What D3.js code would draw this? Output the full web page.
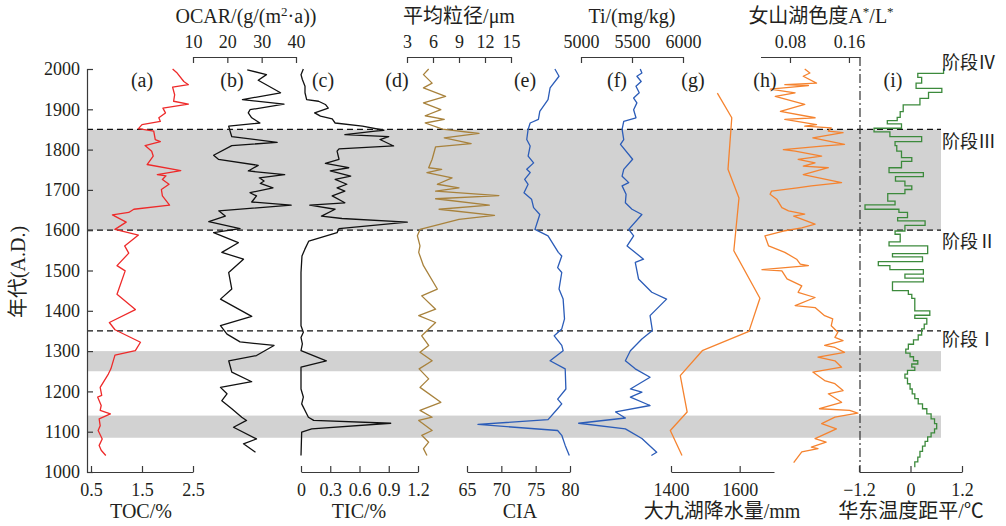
<!DOCTYPE html>
<html>
<head>
<meta charset="utf-8">
<title>multi-proxy record 1000-2000 A.D.</title>
<script src="https://cdn.jsdelivr.net/npm/d3@7"></script>
<style>
    body { margin: 0; background: #fff; }
    svg text { font-family: "Liberation Serif", "Noto Sans CJK SC", serif; fill: #231f20; }
</style>
</head>
<body>
<svg width="1006" height="526"></svg>
<script>
// [year, value] pairs
const toc = [[2000,2.1],[1990,2.19],[1969,2.32],[1961,2.41],[1955,2.1],[1936,2.14],[1920,2.12],[1913,2.41],[1903,1.91],[1891,1.96],[1879,1.83],[1870,1.86],[1862,1.5],[1852,1.43],[1846,1.73],[1825,1.76],[1820,1.86],[1810,1.56],[1796,1.69],[1784,1.72],[1763,1.6],[1748,2.26],[1738,1.8],[1735,1.97],[1726,1.9],[1714,2.03],[1701,1.88],[1685,1.9],[1662,2.04],[1652,1.34],[1644,1.24],[1638,0.92],[1620,1.19],[1602,0.97],[1588,1.43],[1561,1.16],[1543,1.24],[1512,1.01],[1499,1.17],[1441,1.01],[1403,1.37],[1371,0.86],[1353,0.97],[1322,1.47],[1301,1.37],[1290,0.97],[1256,0.89],[1243,0.84],[1210,0.68],[1190,0.71],[1186,0.63],[1165,0.7],[1153,0.68],[1144,0.88],[1132,0.66],[1115,0.68],[1103,0.64],[1082,0.72],[1066,0.66],[1054,0.7],[1041,0.79]];
const ocar = [[1998,25.8],[1986,31.4],[1972,29],[1941,35.5],[1924,24.4],[1913,36.5],[1899,26.6],[1891,26.1],[1879,27.1],[1866,29.5],[1858,20.4],[1846,20.8],[1832,21.3],[1818,34.5],[1810,21.3],[1786,16],[1776,17.4],[1761,29],[1747,26.1],[1738,36.7],[1730,29.3],[1722,30.7],[1716,29.6],[1705,33.3],[1693,26.6],[1685,28.5],[1670,27.1],[1662,38.6],[1648,17.5],[1635,19.4],[1621,14.6],[1604,23.7],[1594,16],[1569,23.2],[1545,18.4],[1528,24.7],[1495,20.4],[1454,21.3],[1429,18],[1386,27.1],[1363,18],[1342,19.9],[1323,23.7],[1314,33.6],[1289,28.5],[1276,20.4],[1248,21.3],[1224,27.1],[1210,18],[1194,19.9],[1177,18.4],[1157,21.3],[1136,24.2],[1128,25.6],[1111,21.8],[1082,28.5],[1070,24.7],[1049,28.2]];
const tic = [[2000,0.024],[1986,0],[1974,0.014],[1957,0.041],[1941,0.041],[1924,0.058],[1920,0.18],[1912,0.25],[1903,0.28],[1891,0.14],[1883,0.2],[1876,0.32],[1866,0.35],[1858,0.63],[1848,0.85],[1846,0.76],[1837,0.45],[1832,0.9],[1825,0.81],[1809,0.95],[1802,0.39],[1796,0.37],[1776,0.39],[1766,0.25],[1755,0.49],[1747,0.3],[1734,0.51],[1726,0.35],[1714,0.47],[1705,0.37],[1697,0.45],[1685,0.32],[1668,0.45],[1662,0.09],[1652,0.35],[1635,0.21],[1629,0.42],[1620,1.09],[1604,0.39],[1594,0.37],[1573,0.08],[1553,0.04],[1536,0.01],[1495,0],[1363,0],[1347,0.024],[1334,0],[1318,0.014],[1301,0],[1276,0.26],[1260,0],[1206,0],[1186,0.024],[1169,0.007],[1136,0.076],[1128,0.13],[1121,0.92],[1107,0.11],[1099,0.007],[1041,0]];
const grain = [[2000,5.5],[1986,4.9],[1965,5.9],[1953,4.9],[1932,7.45],[1916,4.9],[1899,6.9],[1884,5.1],[1875,7.3],[1866,5.1],[1851,7.1],[1840,11.3],[1829,7.3],[1815,10.4],[1807,6.3],[1776,5.9],[1755,5.5],[1751,7.0],[1743,5.3],[1730,8.2],[1714,6.5],[1705,9.0],[1697,6.3],[1686,13.6],[1678,6.3],[1662,12.5],[1652,6.7],[1637,13.1],[1627,9.0],[1602,4.5],[1586,4.2],[1561,4.5],[1545,4.35],[1512,4.9],[1454,6.5],[1437,4.7],[1404,6.3],[1388,4.35],[1371,6.3],[1338,4.7],[1314,5.5],[1297,4.5],[1276,5.9],[1256,4.4],[1231,5.5],[1210,4.5],[1173,6.9],[1153,4.5],[1136,5.9],[1128,4.35],[1103,5.9],[1091,4.7],[1074,5.5],[1058,4.9],[1041,5.3]];
const cia = [[2000,77.8],[1982,78.4],[1953,77.1],[1924,76.8],[1895,75.6],[1875,75.4],[1866,74.2],[1850,73.9],[1825,73.7],[1809,74.2],[1784,73.9],[1767,74.7],[1751,73.7],[1743,74.2],[1726,73.4],[1714,73.9],[1693,73.3],[1677,74.4],[1656,74.7],[1639,75.6],[1602,74.9],[1586,76.8],[1545,78.3],[1536,78.8],[1507,78.2],[1495,78.8],[1454,78.4],[1429,79.0],[1380,79.2],[1355,78.8],[1338,77.7],[1314,78.8],[1301,79.0],[1276,77.1],[1256,79.3],[1206,79.4],[1181,78.2],[1169,78.8],[1157,78.2],[1130,76.8],[1118,66.6],[1103,78.2],[1091,78.8],[1066,79.3],[1041,79.9]];
const ti = [[2000,5581],[1990,5597],[1982,5548],[1969,5590],[1957,5539],[1941,5571],[1928,5516],[1916,5548],[1899,5516],[1879,5539],[1870,5419],[1850,5403],[1825,5419],[1813,5387],[1776,5506],[1751,5419],[1734,5403],[1718,5468],[1710,5403],[1689,5442],[1668,5435],[1652,5500],[1639,5597],[1602,5468],[1586,5516],[1561,5452],[1528,5613],[1520,5532],[1479,5564],[1446,5694],[1429,5839],[1388,5677],[1351,5700],[1330,5597],[1301,5484],[1276,5435],[1256,5532],[1235,5677],[1206,5484],[1198,5597],[1186,5484],[1165,5677],[1149,5339],[1134,5435],[1121,4977],[1107,5435],[1083,5597],[1049,5742],[1041,5690]];
const precip = [[1940,1535],[1879,1577],[1751,1566],[1680,1598],[1549,1583],[1431,1659],[1349,1627],[1301,1491],[1239,1427],[1149,1447],[1103,1398],[1041,1432]];
const colorIdx = [[2000,0.100],[1990,0.107],[1982,0.098],[1965,0.116],[1961,0.073],[1959,0.105],[1950,0.053],[1941,0.087],[1932,0.060],[1912,0.100],[1895,0.067],[1879,0.114],[1875,0.073],[1862,0.116],[1858,0.100],[1854,0.136],[1846,0.132],[1842,0.152],[1829,0.111],[1813,0.154],[1809,0.127],[1800,0.071],[1796,0.087],[1784,0.123],[1776,0.091],[1767,0.114],[1759,0.098],[1755,0.132],[1738,0.098],[1718,0.150],[1710,0.109],[1705,0.090],[1697,0.055],[1689,0.053],[1677,0.062],[1656,0.069],[1648,0.078],[1640,0.100],[1635,0.085],[1615,0.114],[1606,0.096],[1598,0.071],[1586,0.046],[1561,0.051],[1545,0.073],[1528,0.089],[1516,0.094],[1512,0.105],[1502,0.042],[1499,0.069],[1479,0.076],[1462,0.096],[1446,0.091],[1433,0.114],[1413,0.087],[1408,0.114],[1388,0.127],[1380,0.138],[1363,0.136],[1347,0.145],[1334,0.141],[1326,0.152],[1314,0.127],[1309,0.141],[1297,0.154],[1285,0.118],[1276,0.141],[1260,0.150],[1248,0.111],[1227,0.127],[1219,0.141],[1202,0.152],[1194,0.132],[1173,0.150],[1157,0.120],[1153,0.161],[1146,0.172],[1136,0.141],[1120,0.123],[1107,0.143],[1083,0.114],[1074,0.129],[1062,0.109],[1058,0.118],[1050,0.096],[1023,0.085]];
// step series: [year the step starts (going down in time), anomaly]
const tempSteps = [[2001,0.77],[1989,0.17],[1979,0.26],[1965,0.13],[1952,0.73],[1942,0.42],[1927,0.22],[1911,-0.17],[1894,-0.24],[1880,-0.31],[1872,-0.54],[1864,-0.21],[1853,-0.85],[1844,-0.48],[1832,0.26],[1820,-0.36],[1810,-0.32],[1796,-0.21],[1780,0.03],[1771,-0.21],[1755,-0.50],[1743,0.30],[1733,-0.35],[1722,-0.13],[1710,0.03],[1701,-0.13],[1691,-0.53],[1672,-0.36],[1663,-1.06],[1652,-0.27],[1644,-0.07],[1631,-0.30],[1623,0.34],[1612,-0.13],[1598,-0.36],[1590,-0.24],[1571,-0.50],[1561,0.40],[1542,-0.42],[1534,0.28],[1522,-0.75],[1512,-0.48],[1502,0.30],[1491,-0.13],[1481,0.30],[1472,-0.42],[1450,-0.05],[1441,0.03],[1431,0.10],[1400,0.45],[1389,0.10],[1381,0.38],[1367,0.32],[1355,0.26],[1340,0.18],[1328,0.07],[1317,-0.05],[1305,-0.11],[1295,-0.01],[1286,0.07],[1276,0.17],[1268,0.03],[1260,0.10],[1252,-0.07],[1243,-0.13],[1233,-0.07],[1219,-0.01],[1206,0.04],[1194,0.10],[1182,0.18],[1169,0.28],[1157,0.38],[1144,0.48],[1132,0.56],[1120,0.61],[1107,0.56],[1097,0.48],[1087,0.40],[1076,0.34],[1064,0.28],[1051,0.22],[1037,0.17],[1025,0.10]];
const tempEnd = 1012;

const bands = [[1600,1850],[1250,1300],[1085,1140]];
const boundaries = [1850,1600,1350];
const stages = [["阶段Ⅳ",2018],["阶段Ⅲ",1822],["阶段Ⅱ",1572],["阶段Ⅰ",1330]];
const panelLabels = ["(a)","(b)","(c)","(d)","(e)","(f)","(g)","(h)","(i)"];

const svg = d3.select("svg");
const y = d3.scaleLinear().domain([1000, 2000]).range([472, 69]);
const yTop = 57, yBot = 472, left = 87, right = 941;

const xToc = d3.scaleLinear().domain([0.5, 2.5]).range([91, 193]);
const xOcar = d3.scaleLinear().domain([10, 40]).range([193, 296]);
const xTic = d3.scaleLinear().domain([0, 1.2]).range([301, 418]);
const xGrain = d3.scaleLinear().domain([3, 15]).range([407, 511]);
const xCia = d3.scaleLinear().domain([65, 80]).range([467, 570]);
const xTi = d3.scaleLinear().domain([5000, 6000]).range([581, 683]);
const xPre = d3.scaleLinear().domain([1400, 1700]).range([671, 774]);
const xCol = d3.scaleLinear().domain([0.04, 0.175]).range([760.5, 860]);
const xTmp = d3.scaleLinear().domain([-1.2, 1.2]).range([859, 962]);

// shaded intervals and stage boundaries
svg.selectAll("rect.band").data(bands).enter().append("rect")
    .attr("x", left).attr("width", right - left)
    .attr("y", d => y(d[1])).attr("height", d => y(d[0]) - y(d[1]))
    .attr("fill", "#d2d2d2");
svg.selectAll("line.bd").data(boundaries).enter().append("line")
    .attr("x1", left).attr("x2", right)
    .attr("y1", d => y(d)).attr("y2", d => y(d))
    .attr("stroke", "#111").attr("stroke-width", 1.2).attr("stroke-dasharray", "6,4");

svg.append("line").attr("x1", 860).attr("x2", 860).attr("y1", yTop).attr("y2", yBot)
    .attr("stroke", "#333").attr("stroke-width", 1.2).attr("stroke-dasharray", "9,3,2,3");

const series = [
    [toc, xToc, "#ee2a2a"],
    [ocar, xOcar, "#111"],
    [tic, xTic, "#111"],
    [grain, xGrain, "#a8823c"],
    [cia, xCia, "#2b5cb8"],
    [ti, xTi, "#2b5cb8"],
    [precip, xPre, "#f5832f"],
    [colorIdx, xCol, "#f5832f"]
];
series.forEach(function(s) {
    let line = d3.line().x(d => s[1](d[1])).y(d => y(d[0]));
    svg.append("path").datum(s[0]).attr("d", line)
        .attr("fill", "none").attr("stroke", s[2]).attr("stroke-width", 1.3)
        .attr("stroke-linejoin", "round");
});

let tempPts = tempSteps.concat([[tempEnd, tempSteps[tempSteps.length - 1][1]]]);
svg.append("path").datum(tempPts)
    .attr("d", d3.line().x(d => xTmp(d[1])).y(d => y(d[0])).curve(d3.curveStepBefore))
    .attr("fill", "none").attr("stroke", "#3c8a3c").attr("stroke-width", 1.3);

// axes
function styleAxis(g) {
    g.attr("font-family", null).attr("font-size", null);
    g.selectAll("path,line").attr("stroke", "#3a3a3a").attr("stroke-width", 1.2);
    g.selectAll("text").style("font-size", "18px").attr("fill", "#231f20");
}
svg.append("g").attr("transform", "translate(" + left + ",0)")
    .call(d3.axisLeft(y).tickValues(d3.range(1000, 2001, 100)).tickSize(-6).tickPadding(7).tickFormat(d3.format("d")))
    .call(styleAxis);

const fmt = d3.format("");
const bottomAxes = [
    [xToc, [0.5, 1.5, 2.5], fmt],
    [xTic, [0, 0.3, 0.6, 0.9, 1.2], fmt],
    [xCia, [65, 70, 75, 80], fmt],
    [xPre, [1400, 1600], fmt],
    [xTmp, [-1.2, 0, 1.2], d3.format(".1~f")]
];
bottomAxes.forEach(function(a) {
    svg.append("g").attr("transform", "translate(0," + yBot + ")")
        .call(d3.axisBottom(a[0]).tickValues(a[1]).tickSizeInner(-6).tickSizeOuter(0).tickPadding(11).tickFormat(a[2]))
        .call(styleAxis);
});
const topAxes = [
    [xOcar, [10, 20, 30, 40], fmt],
    [xGrain, [3, 6, 9, 12, 15], fmt],
    [xTi, [5000, 5500, 6000], fmt],
    [xCol, [0.08, 0.16], d3.format(".2f")]
];
topAxes.forEach(function(a) {
    svg.append("g").attr("transform", "translate(0," + yTop + ")")
        .call(d3.axisTop(a[0]).tickValues(a[1]).tickSizeInner(-6).tickSizeOuter(0).tickPadding(9).tickFormat(a[2]))
        .call(styleAxis);
});

// axis titles
function title(x, yy, txt) {
    return svg.append("text").attr("x", x).attr("y", yy).attr("text-anchor", "middle")
        .style("font-size", "20px").text(txt);
}
let t1 = title(246, 23, "OCAR/(g/(m");
t1.append("tspan").attr("dy", -7).style("font-size", "13px").text("2");
t1.append("tspan").attr("dy", 7).text("·a))");
title(459, 23, "平均粒径/μm");
title(632, 23, "Ti/(mg/kg)");
let t2 = title(821, 23, "女山湖色度A");
t2.append("tspan").attr("dy", -7).style("font-size", "13px").text("*");
t2.append("tspan").attr("dy", 7).text("/L");
t2.append("tspan").attr("dy", -7).style("font-size", "13px").text("*");

title(141, 518, "TOC/%");
title(359, 518, "TIC/%");
title(520, 518, "CIA");
title(722, 518, "大九湖降水量/mm");
title(911, 518, "华东温度距平/℃");

svg.append("text").attr("transform", "translate(25,272) rotate(-90)")
    .attr("text-anchor", "middle").style("font-size", "20px").text("年代(A.D.)");

const labelX = [142, 232, 323, 397, 525, 617, 693, 765, 893];
svg.selectAll("text.pl").data(panelLabels).enter().append("text")
    .attr("x", (d, i) => labelX[i]).attr("y", 87).attr("text-anchor", "middle")
    .style("font-size", "20px").text(d => d);

svg.selectAll("text.st").data(stages).enter().append("text")
    .attr("x", 942).attr("y", d => y(d[1]) + 7)
    .style("font-size", "18px").text(d => d[0]);
</script>
</body>
</html>
